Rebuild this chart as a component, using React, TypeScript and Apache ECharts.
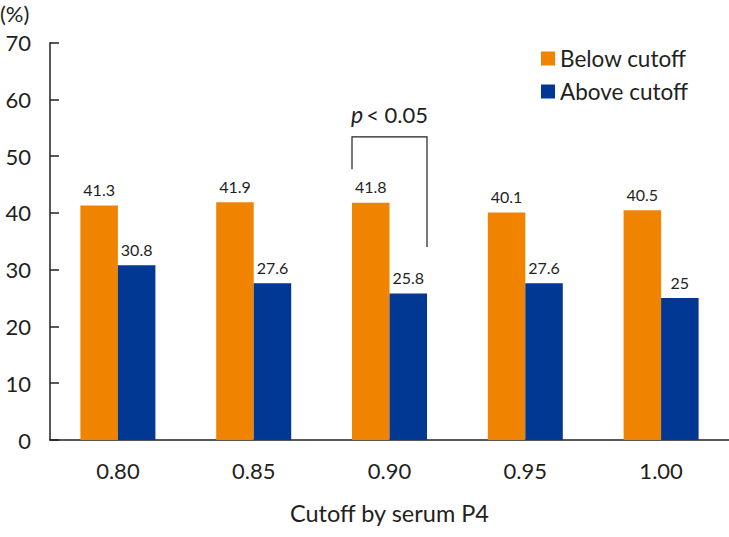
import React, { useEffect, useRef } from "react";
import * as echarts from "echarts";

const categories = ["0.80", "0.85", "0.90", "0.95", "1.00"];
const belowCutoff = [41.3, 41.9, 41.8, 40.1, 40.5];
const aboveCutoff = [30.8, 27.6, 25.8, 27.6, 25];
const seriesNames = ["Below cutoff", "Above cutoff"];
const yMin = 0;
const yMax = 70;
const yInterval = 10;
const axisTitle = "Cutoff by serum P4";
const unitLabel = "(%)";
// significance bracket over category 0.90
const bracketCategory = 2;
const bracketTop = 53.4;
const bracketLeftEnd = 47.7;
const bracketRightEnd = 34.0;
const bracketTextValue = 57.4;

const FONT = "Lato, 'Noto Sans', sans-serif";
const INK = "#231f20";
const ORANGE = "#f08300";
const BLUE = "#003894";
const BAR_W = 37.5;

export default function App() {
  const ref = useRef<HTMLDivElement>(null);
  useEffect(() => {
    if (!ref.current) return;
    const chart = echarts.init(ref.current, null, { renderer: "svg" });
    chart.setOption({
      animation: false,
      backgroundColor: "#ffffff",
      textStyle: { fontFamily: FONT, color: INK },
      grid: { left: 50, top: 42.7, width: 682, height: 397.3, containLabel: false },
      legend: {
        orient: "vertical",
        left: 541,
        top: 47,
        padding: 0,
        itemWidth: 14,
        itemHeight: 14,
        itemGap: 10,
        icon: "rect",
        textStyle: { fontFamily: FONT, fontSize: 22.5, lineHeight: 22, color: INK },
        data: seriesNames,
      },
      xAxis: {
        type: "category",
        data: categories,
        axisLine: { lineStyle: { color: INK, width: 1.5 } },
        axisTick: { show: false },
        axisLabel: { fontFamily: FONT, fontSize: 22, color: INK, margin: 19 },
        name: axisTitle,
        nameLocation: "middle",
        nameGap: 61,
        nameTextStyle: { fontFamily: FONT, fontSize: 23.5, color: INK },
      },
      yAxis: {
        type: "value",
        min: yMin,
        max: yMax,
        interval: yInterval,
        axisLine: { show: true, lineStyle: { color: INK, width: 1.5 } },
        axisTick: { show: true, inside: true, length: 9, lineStyle: { color: INK, width: 1.5 } },
        splitLine: { show: false },
        axisLabel: { fontFamily: FONT, fontSize: 22, color: INK, margin: 19, padding: [4, 0, 0, 0] },
      },
      series: [
        {
          name: seriesNames[0],
          type: "bar",
          data: belowCutoff,
          barWidth: BAR_W,
          barGap: "0%",
          itemStyle: { color: ORANGE },
          label: { show: true, position: "top", distance: 8, fontFamily: FONT, fontSize: 16, color: INK },
        },
        {
          name: seriesNames[1],
          type: "bar",
          data: aboveCutoff,
          barWidth: BAR_W,
          barGap: "0%",
          itemStyle: { color: BLUE },
          label: { show: true, position: "top", distance: 8, fontFamily: FONT, fontSize: 16, color: INK },
        },
      ],
    });

    const pTop = chart.convertToPixel({ xAxisIndex: 0, yAxisIndex: 0 }, [bracketCategory, bracketTop]) as number[];
    const pL = chart.convertToPixel({ xAxisIndex: 0, yAxisIndex: 0 }, [bracketCategory, bracketLeftEnd]) as number[];
    const pR = chart.convertToPixel({ xAxisIndex: 0, yAxisIndex: 0 }, [bracketCategory, bracketRightEnd]) as number[];
    const pT = chart.convertToPixel({ xAxisIndex: 0, yAxisIndex: 0 }, [bracketCategory, bracketTextValue]) as number[];
    const cx = pTop[0];
    const lx = cx - BAR_W;
    const rx = cx + BAR_W;

    chart.setOption({
      graphic: [
        {
          type: "polyline",
          shape: { points: [[lx, pL[1]], [lx, pTop[1]], [rx, pTop[1]], [rx, pR[1]]] },
          style: { stroke: INK, lineWidth: 1.2, fill: null },
        },
        {
          type: "text",
          x: cx,
          y: pT[1],
          style: {
            text: "{i|p}{n|< 0.05}",
            align: "center",
            verticalAlign: "middle",
            rich: {
              i: { fontFamily: FONT, fontSize: 23, fontStyle: "italic", fill: INK, padding: [0, 3, 0, 0] },
              n: { fontFamily: FONT, fontSize: 22, fill: INK },
            },
          },
        },
        {
          type: "text",
          left: 0,
          top: 2,
          style: { text: unitLabel, fontFamily: FONT, fontSize: 22, fill: INK },
        },
      ],
    });

    return () => chart.dispose();
  }, []);
  return (
    <div
      ref={ref}
      style={{ position: "fixed", left: 0, top: 0, width: 729, height: 537, background: "#fff" }}
    />
  );
}
